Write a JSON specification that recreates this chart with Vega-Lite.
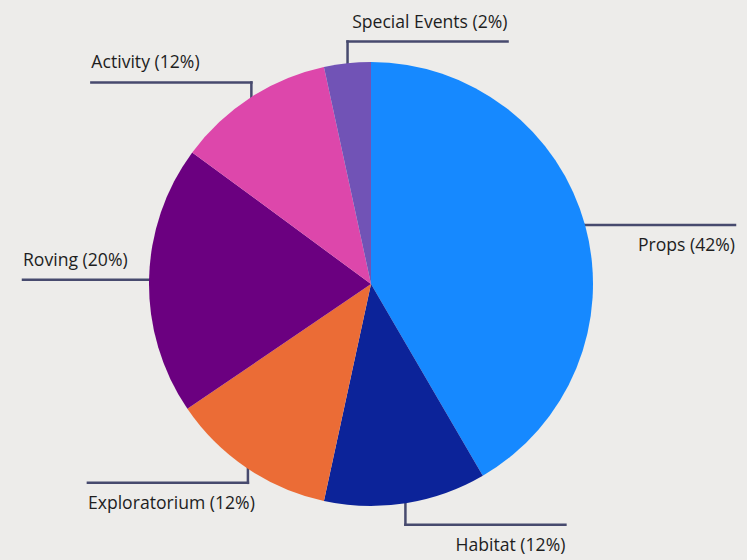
{
  "$schema": "https://vega.github.io/schema/vega-lite/v6.json",
  "width": 747,
  "height": 560,
  "autosize": {"type": "fit", "contains": "padding"},
  "padding": 0,
  "background": "#EDECEA",
  "config": {"view": {"stroke": null}},
  "data": {
    "values": [
      {"category": "Props", "value": 41.6, "label": "Props (42%)"},
      {"category": "Habitat", "value": 11.8, "label": "Habitat (12%)"},
      {"category": "Exploratorium", "value": 12.1, "label": "Exploratorium (12%)"},
      {"category": "Roving", "value": 19.6, "label": "Roving (20%)"},
      {"category": "Activity", "value": 11.5, "label": "Activity (12%)"},
      {"category": "Special Events", "value": 3.4, "label": "Special Events (2%)"}
    ]
  },
  "transform": [
    {"window": [{"op": "row_number", "as": "idx"}, {"op": "sum", "field": "value", "as": "cum"}], "frame": [null, 0]},
    {"joinaggregate": [{"op": "sum", "field": "value", "as": "total"}]},
    {"calculate": "2*PI*(datum.cum - datum.value/2)/datum.total", "as": "a"},
    {"calculate": "sin(datum.a)", "as": "s"},
    {"calculate": "cos(datum.a)", "as": "c"},
    {"calculate": "220*datum.s", "as": "ax"},
    {"calculate": "220*datum.c", "as": "ay"},
    {"calculate": "datum.ay + 24*datum.c*abs(datum.c)", "as": "ly"},
    {"calculate": "datum.s > -0.2 ? 1 : -1", "as": "dir"},
    {"calculate": "clamp(datum.ax + datum.dir*160, -348, 364)", "as": "ex"},
    {"calculate": "datum.c > 0.5 || (datum.c > 0 && datum.s < 0)", "as": "above"},
    {"calculate": "datum.above ? datum.ly + 14 : datum.ly - 26", "as": "ty"}
  ],
  "layer": [
    {
      "mark": {"type": "rule", "color": "#474A6E", "strokeWidth": 2.5, "strokeCap": "square"},
      "encoding": {
        "x": {"field": "ax", "type": "quantitative", "scale": {"domain": [-371, 376], "nice": false, "zero": false}, "axis": null},
        "y": {"field": "ay", "type": "quantitative", "scale": {"domain": [-276, 284], "nice": false, "zero": false}, "axis": null},
        "y2": {"field": "ly"}
      }
    },
    {
      "mark": {"type": "rule", "color": "#474A6E", "strokeWidth": 2.5, "strokeCap": "square"},
      "encoding": {
        "x": {"field": "ax", "type": "quantitative", "scale": {"domain": [-371, 376], "nice": false, "zero": false}, "axis": null},
        "x2": {"field": "ex"},
        "y": {"field": "ly", "type": "quantitative", "scale": {"domain": [-276, 284], "nice": false, "zero": false}, "axis": null}
      }
    },
    {
      "mark": {"type": "arc", "outerRadius": 222},
      "encoding": {
        "theta": {"field": "value", "type": "quantitative", "stack": true},
        "order": {"field": "idx", "type": "quantitative"},
        "color": {
          "field": "category",
          "type": "nominal",
          "scale": {
            "domain": ["Props", "Habitat", "Exploratorium", "Roving", "Activity", "Special Events"],
            "range": ["#1689FF", "#0C2399", "#EB6C36", "#6B0080", "#DD47AB", "#7153B6"]
          },
          "legend": null
        },
        "x": {"datum": 0, "type": "quantitative", "scale": {"domain": [-371, 376], "nice": false, "zero": false}, "axis": null},
        "y": {"datum": 0, "type": "quantitative", "scale": {"domain": [-276, 284], "nice": false, "zero": false}, "axis": null}
      }
    },
    {
      "transform": [{"filter": "datum.dir == 1"}],
      "mark": {"type": "text", "align": "right", "baseline": "alphabetic", "font": "Open Sans", "fontSize": 17.6, "color": "#1E1E1E"},
      "encoding": {
        "x": {"field": "ex", "type": "quantitative", "scale": {"domain": [-371, 376], "nice": false, "zero": false}, "axis": null},
        "y": {"field": "ty", "type": "quantitative", "scale": {"domain": [-276, 284], "nice": false, "zero": false}, "axis": null},
        "text": {"field": "label"}
      }
    },
    {
      "transform": [{"filter": "datum.dir == -1"}],
      "mark": {"type": "text", "align": "left", "baseline": "alphabetic", "font": "Open Sans", "fontSize": 17.6, "color": "#1E1E1E"},
      "encoding": {
        "x": {"field": "ex", "type": "quantitative", "scale": {"domain": [-371, 376], "nice": false, "zero": false}, "axis": null},
        "y": {"field": "ty", "type": "quantitative", "scale": {"domain": [-276, 284], "nice": false, "zero": false}, "axis": null},
        "text": {"field": "label"}
      }
    }
  ]
}
